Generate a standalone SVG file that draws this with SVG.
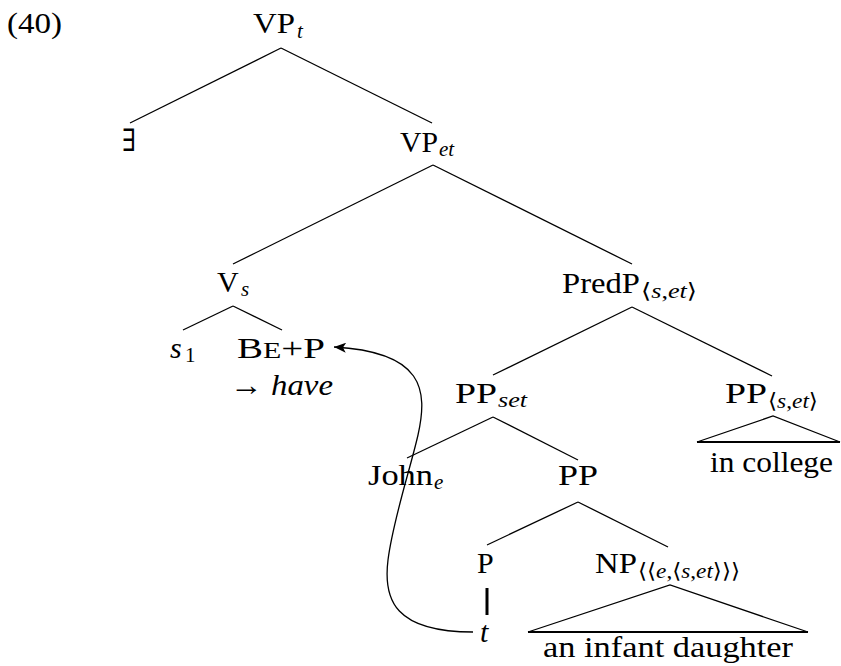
<svg xmlns="http://www.w3.org/2000/svg" width="841" height="666" viewBox="0 0 841 666" font-family="'Liberation Serif', 'Times New Roman', 'DejaVu Serif', serif">
<style>
  text { font-family: 'Liberation Serif', 'Times New Roman', 'DejaVu Serif', serif; font-size: 30px; fill: #000; }
  .sub { font-size: 21px; }
  .it { font-style: italic; }
  .sc { font-size: 23px; }
  .edge { stroke: #000; stroke-width: 1.3; fill: none; }
  .base { stroke: #000; stroke-width: 2.2; fill: none; }
</style>
<defs>
  <marker id="ah" viewBox="0 0 12 10" refX="12" refY="5" markerWidth="12" markerHeight="10" markerUnits="userSpaceOnUse" orient="auto">
    <path d="M12,5 L0,0 L3,5 L0,10 Z" fill="#000"/>
  </marker>
</defs>
<text x="7" y="33" textLength="55" lengthAdjust="spacingAndGlyphs">(40)</text>
<g id="edges">
  <line class="edge" x1="281" y1="48" x2="130" y2="123"/>
  <line class="edge" x1="281" y1="48" x2="432" y2="123"/>
  <line class="edge" x1="433" y1="165" x2="233" y2="264"/>
  <line class="edge" x1="433" y1="165" x2="632" y2="264"/>
  <line class="edge" x1="233" y1="306" x2="183" y2="330"/>
  <line class="edge" x1="233" y1="306" x2="282" y2="330"/>
  <line class="edge" x1="632" y1="307" x2="493" y2="375"/>
  <line class="edge" x1="632" y1="307" x2="772" y2="376"/>
  <line class="edge" x1="493" y1="417" x2="407" y2="458"/>
  <line class="edge" x1="493" y1="417" x2="578" y2="460"/>
  <line class="edge" x1="578" y1="502" x2="487" y2="545"/>
  <line class="edge" x1="578" y1="502" x2="668" y2="547"/>
  <line x1="487" y1="588" x2="487" y2="615" stroke="#000" stroke-width="3"/>
  <polyline class="edge" points="697,442 773,416 840,442"/>
  <line class="base" x1="697" y1="442" x2="840" y2="442"/>
  <polyline class="edge" points="528,632 670,585 808,632"/>
  <line class="base" x1="528" y1="632" x2="808" y2="632"/>
  <path class="edge" d="M473,632 C395,632 383,600 388,560 C393,520 410,470 418,435 C428,390 424,352 334,347" marker-end="url(#ah)"/>
</g>
<g id="VPt">
  <text x="253" y="33" textLength="42" lengthAdjust="spacingAndGlyphs">VP</text>
  <text class="sub it" x="297" y="38">t</text>
</g>
<g id="exists">
  <text x="122" y="151" textLength="14" lengthAdjust="spacingAndGlyphs" style="font-family:'DejaVu Serif',serif;font-size:31px">∃</text>
</g>
<g id="VPet">
  <text x="400" y="152" textLength="38" lengthAdjust="spacingAndGlyphs">VP</text>
  <text class="sub it" x="439" y="156">et</text>
</g>
<g id="Vs">
  <text x="217" y="292">V</text>
  <text class="sub it" x="241" y="296">s</text>
</g>
<g id="PredP">
  <text x="562" y="293" textLength="78" lengthAdjust="spacingAndGlyphs">PredP</text>
  <text class="sub" x="641" y="298" textLength="56" lengthAdjust="spacingAndGlyphs">⟨<tspan class="it">s</tspan>,<tspan class="it">et</tspan>⟩</text>
</g>
<g id="s1">
  <text class="it" x="170" y="358">s</text>
  <text class="sub" x="185" y="362">1</text>
</g>
<g id="BeP">
  <text x="237" y="358" textLength="88" lengthAdjust="spacingAndGlyphs">B<tspan class="sc">E</tspan>+P</text>
  <text x="230" y="395" textLength="103" lengthAdjust="spacingAndGlyphs">→ <tspan class="it">have</tspan></text>
</g>
<g id="PPset">
  <text x="455" y="403" textLength="42" lengthAdjust="spacingAndGlyphs">PP</text>
  <text class="sub it" x="498" y="407" textLength="29" lengthAdjust="spacingAndGlyphs">set</text>
</g>
<g id="PPset2">
  <text x="725" y="403" textLength="42" lengthAdjust="spacingAndGlyphs">PP</text>
  <text class="sub" x="768" y="408" textLength="50" lengthAdjust="spacingAndGlyphs">⟨<tspan class="it">s</tspan>,<tspan class="it">et</tspan>⟩</text>
  <text x="710" y="472" textLength="123" lengthAdjust="spacingAndGlyphs">in college</text>
</g>
<g id="John">
  <text x="368" y="485" textLength="65" lengthAdjust="spacingAndGlyphs">John</text>
  <text class="sub it" x="434" y="489">e</text>
</g>
<g id="PP">
  <text x="558" y="485" textLength="40" lengthAdjust="spacingAndGlyphs">PP</text>
</g>
<g id="P">
  <text x="477" y="573">P</text>
  <text class="it" x="480" y="642">t</text>
</g>
<g id="NP">
  <text x="595" y="573" textLength="42" lengthAdjust="spacingAndGlyphs">NP</text>
  <text class="sub" x="638" y="578" textLength="102" lengthAdjust="spacingAndGlyphs">⟨⟨<tspan class="it">e</tspan>,⟨<tspan class="it">s</tspan>,<tspan class="it">et</tspan>⟩⟩⟩</text>
  <text x="543" y="657" textLength="250" lengthAdjust="spacingAndGlyphs">an infant daughter</text>
</g>
</svg>
